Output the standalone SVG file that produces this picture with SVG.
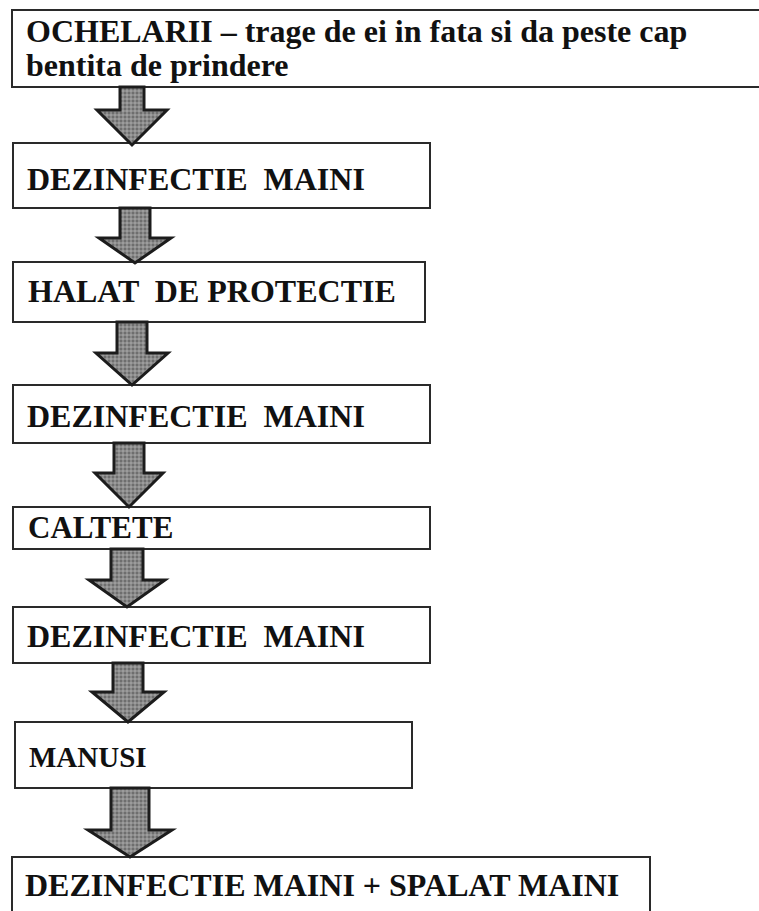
<svg xmlns="http://www.w3.org/2000/svg" width="759" height="911" viewBox="0 0 759 911">
<style>
.box{fill:#fff;stroke:#2a2a2a;stroke-width:2}
.t{font-family:"Liberation Serif","Times New Roman",serif;font-weight:bold;font-size:32px;fill:#111}
.arr{fill:url(#dots);stroke:#1c1c1c;stroke-width:3;stroke-linejoin:miter}
</style>
<defs>
<pattern id="dots" width="4" height="4" patternUnits="userSpaceOnUse">
<rect width="4" height="4" fill="#8a8a8a"/>
<rect width="2" height="2" fill="#6e6e6e"/>
<rect x="2" y="2" width="2" height="2" fill="#9c9c9c"/>
</pattern>
</defs>
<rect width="759" height="911" fill="#fff"/>
<g id="n1"><rect class="box" x="12" y="10" width="760" height="77"/>
<text class="t" x="26" y="42">OCHELARII – trage de ei in fata si da peste cap</text>
<text class="t" x="26" y="76">bentita de prindere</text></g>
<g id="n2"><rect class="box" x="13" y="143" width="417" height="65"/><text class="t" x="27" y="190" xml:space="preserve">DEZINFECTIE  MAINI</text></g>
<g id="n3"><rect class="box" x="13" y="262" width="412" height="60"/><text class="t" x="28" y="302" xml:space="preserve">HALAT  DE PROTECTIE</text></g>
<g id="n4"><rect class="box" x="13" y="385" width="417" height="58"/><text class="t" x="27" y="427" xml:space="preserve">DEZINFECTIE  MAINI</text></g>
<g id="n5"><rect class="box" x="13" y="507" width="417" height="42"/><text class="t" x="28" y="538" style="font-size:31px">CALTETE</text></g>
<g id="n6"><rect class="box" x="13" y="607" width="417" height="56"/><text class="t" x="27" y="647" xml:space="preserve">DEZINFECTIE  MAINI</text></g>
<g id="n7"><rect class="box" x="15" y="722" width="397" height="66"/><text class="t" x="29" y="767" style="font-size:29px">MANUSI</text></g>
<g id="n8"><rect class="box" x="12" y="857" width="638" height="60"/><text class="t" x="25" y="896">DEZINFECTIE MAINI + SPALAT MAINI</text></g>
<g id="connectors">
<polygon class="arr" points="120,87 144,87 144,110 167,110 132,145 97,110 120,110"/>
<polygon class="arr" points="120,208 150,208 150,238 171,238 135,263 99,238 120,238"/>
<polygon class="arr" points="117,322 147,322 147,353 168,353 132,385 96,353 117,353"/>
<polygon class="arr" points="114,443 144,443 144,473 163,473 129,507 95,473 114,473"/>
<polygon class="arr" points="111,549 143,549 143,580 165,580 127,607 89,580 111,580"/>
<polygon class="arr" points="113,663 143,663 143,692 164,692 128,722 92,692 113,692"/>
<polygon class="arr" points="111,788 149,788 149,830 172,830 130,857 88,830 111,830"/>
</g>
</svg>
